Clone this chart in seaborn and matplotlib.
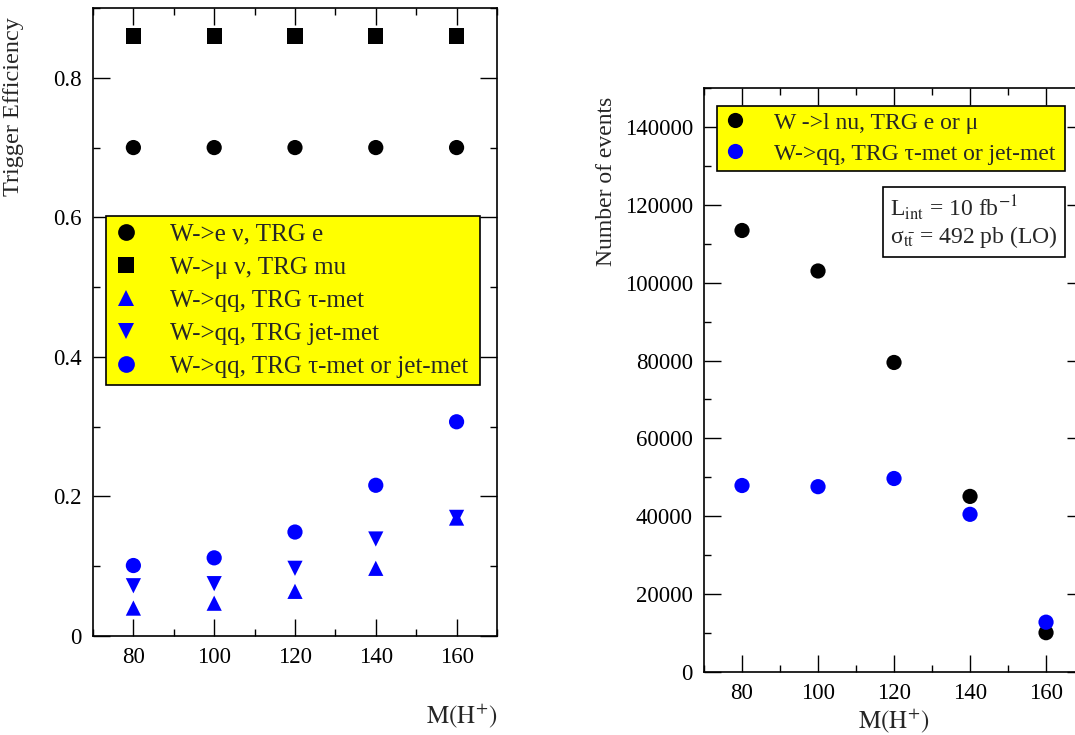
import matplotlib
matplotlib.use("Agg")
import numpy as np
import pandas as pd
import matplotlib.pyplot as plt
import seaborn as sns

# =====================================
# Data
# =====================================
mass = [80, 100, 120, 140, 160]

eff_e_nu = [0.700, 0.700, 0.700, 0.700, 0.700]
eff_mu_nu = [0.860, 0.860, 0.860, 0.860, 0.860]
eff_qq_tau = [0.040, 0.047, 0.064, 0.097, 0.169]
eff_qq_jet = [0.072, 0.075, 0.097, 0.139, 0.170]
eff_qq_or = [0.101, 0.112, 0.149, 0.216, 0.307]

events_lnu = [113400, 103000, 79500, 45100, 10100]
events_qq = [47900, 47600, 49700, 40500, 12800]

eff_labels = [
    "W->e \u03bd, TRG e",
    "W->\u03bc \u03bd, TRG mu",
    "W->qq, TRG \u03c4-met",
    "W->qq, TRG jet-met",
    "W->qq, TRG \u03c4-met or jet-met",
]
evt_labels = [
    "W ->l nu, TRG e or \u03bc",
    "W->qq, TRG \u03c4-met or jet-met",
]

# =====================================
# Style
# =====================================
sns.set_theme(style="ticks")
plt.rcParams["font.family"] = ["Liberation Serif", "DejaVu Serif"]
plt.rcParams["mathtext.fontset"] = "stix"
plt.rcParams["axes.linewidth"] = 1.2
plt.rcParams["axes.edgecolor"] = "black"

fig = plt.figure(figsize=(10.75, 7.35), dpi=100)
ax1 = fig.add_axes([0.0865, 0.1347, 0.3758, 0.8544])
ax2 = fig.add_axes([0.6549, 0.0857, 0.3535, 0.7946])


def style_axes(ax, ymajor, yminor):
    ax.set_xlim(70, 170)
    ax.set_xticks([80, 100, 120, 140, 160])
    ax.set_xticks(np.arange(70, 171, 10), minor=True)
    ax.set_yticks(ymajor)
    ax.set_yticks(yminor, minor=True)
    ax.tick_params(which="both", direction="in", top=True, right=True,
                   colors="black", labelsize=16.5, width=1.0, pad=8)
    ax.tick_params(which="major", length=12)
    ax.tick_params(which="minor", length=5)
    for s in ax.spines.values():
        s.set_visible(True)
        s.set_color("black")


# =====================================
# Left: trigger efficiency
# =====================================
eff_df = pd.DataFrame({
    "mass": mass * 5,
    "eff": eff_e_nu + eff_mu_nu + eff_qq_tau + eff_qq_jet + eff_qq_or,
    "channel": np.repeat(eff_labels, len(mass)),
})

sns.scatterplot(
    data=eff_df, x="mass", y="eff",
    hue="channel", style="channel",
    palette=["black", "black", "blue", "blue", "blue"],
    markers=["o", "s", "^", "v", "o"],
    s=120, linewidth=0, ax=ax1,
)

style_axes(ax1, [0, 0.2, 0.4, 0.6, 0.8], np.arange(0, 0.91, 0.1))
ax1.set_ylim(0, 0.9)
ax1.set_yticklabels(["0", "0.2", "0.4", "0.6", "0.8"])
ax1.set_xlabel(r"$\mathrm{M(H^{+})}$", fontsize=18, loc="right", labelpad=24)
ax1.set_ylabel("Trigger Efficiency", fontsize=17.5, loc="top")
ax1.yaxis.set_label_coords(-0.17, 0.985)

sns.move_legend(
    ax1, "upper left", bbox_to_anchor=(0.032, 0.669, 0.926, 0.0),
    mode="expand", title=None, frameon=True, fancybox=False,
    fontsize=18, markerscale=1.1, handlelength=1.0, handletextpad=1.25,
    labelspacing=0.42, borderpad=0.3, borderaxespad=0,
)
leg1 = ax1.get_legend()
leg1.get_frame().set_facecolor("#ffff00")
leg1.get_frame().set_edgecolor("black")
leg1.get_frame().set_linewidth(1.2)
leg1.get_frame().set_alpha(1)

# =====================================
# Right: number of events
# =====================================
evt_df = pd.DataFrame({
    "mass": mass * 2,
    "events": events_lnu + events_qq,
    "channel": np.repeat(evt_labels, len(mass)),
})

sns.scatterplot(
    data=evt_df, x="mass", y="events", hue="channel",
    palette=["black", "blue"], marker="o",
    s=120, linewidth=0, ax=ax2,
)

style_axes(ax2, np.arange(0, 140001, 20000), np.arange(0, 150001, 10000))
ax2.set_ylim(0, 150000)
ax2.set_xlabel(r"$\mathrm{M(H^{+})}$", fontsize=18, labelpad=2)
ax2.set_ylabel("Number of events", fontsize=17, loc="top")
ax2.yaxis.set_label_coords(-0.23, 0.985)

sns.move_legend(
    ax2, "upper left", bbox_to_anchor=(0.034, 0.97, 0.916, 0.0),
    mode="expand", title=None, frameon=True, fancybox=False,
    fontsize=17, markerscale=1.0, handlelength=1.0, handletextpad=1.15,
    labelspacing=0.4, borderpad=0.28, borderaxespad=0,
)
leg2 = ax2.get_legend()
leg2.get_frame().set_facecolor("#ffff00")
leg2.get_frame().set_edgecolor("black")
leg2.get_frame().set_linewidth(1.2)
leg2.get_frame().set_alpha(1)

ax2.text(
    0.49, 0.82,
    "L$_{\\rm int}$ = 10 fb$^{-1}$\n\u03c3$_{\\mathrm{t\\bar{t}}}$ = 492 pb (LO)",
    transform=ax2.transAxes, fontsize=17, va="top", ha="left",
    linespacing=1.1,
    bbox=dict(boxstyle="square,pad=0.3", facecolor="white",
              edgecolor="black", linewidth=1.2),
)

plt.savefig("out.png", dpi=100)
